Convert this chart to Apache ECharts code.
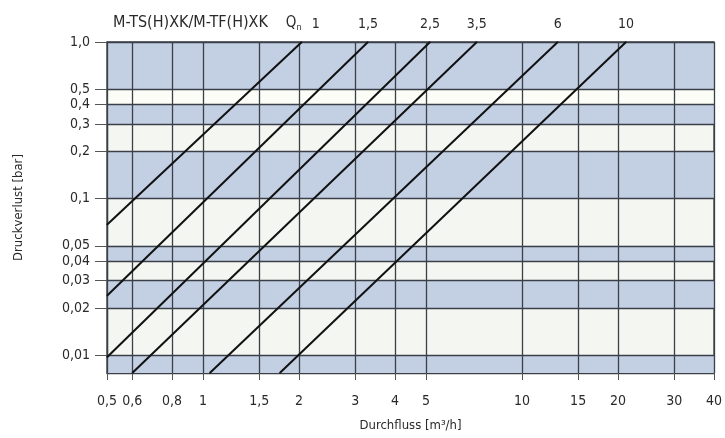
<!DOCTYPE html>
<html>
<head>
<meta charset="utf-8">
<script src="https://cdn.jsdelivr.net/npm/echarts@6/dist/echarts.min.js"></script>
<style>
  html, body { margin: 0; padding: 0; background: #fff; }
  #chart { width: 725px; height: 438px; }
</style>
</head>
<body>
<div id="chart"></div>
<script>
const X_MIN = 0.5
const X_MAX = 40
const Y_MIN = 0.0077
const Y_MAX = 1

const xTicks = [0.5, 0.6, 0.8, 1, 1.5, 2, 3, 4, 5, 10, 15, 20, 30, 40]
const yTicks = [1, 0.5, 0.4, 0.3, 0.2, 0.1, 0.05, 0.04, 0.03, 0.02, 0.01]

// blue bands [low, high]
const blueBands = [[0.5, 1], [0.3, 0.4], [0.1, 0.2], [0.04, 0.05], [0.02, 0.03], [Y_MIN, 0.01]]
const paleBand = [0.4, 0.5]

// nominal flow labels and each curve's two end points [Q, dp]
const qnNames = ['1', '1,5', '2,5', '3,5', '6', '10']
const curveStart = [[0.5, 0.068], [0.5, 0.024], [0.5, 0.0097], [0.6, Y_MIN], [1.05, Y_MIN], [1.74, Y_MIN]]
const curveEnd = [[2.04, 1], [3.29, 1], [5.15, 1], [7.22, 1], [12.95, 1], [21.2, 1]]

const FONT = '"Liberation Sans Narrow", "DejaVu Sans Condensed", "Liberation Sans", sans-serif'
const TEXT = '#2a2a2a'
const fmt = (v) => String(v).replace('.', ',')

const chart = echarts.init(document.getElementById('chart'))

const bandAreas = blueBands.map(([lo, hi]) => [{ yAxis: lo }, { yAxis: hi }])

const series = qnNames.map((name, i) => ({
  type: 'line',
  name,
  symbol: 'circle',
  symbolSize: 1,
  showSymbol: true,
  silent: true,
  clip: false,
  z: 5,
  itemStyle: { color: '#111' },
  lineStyle: { color: '#111', width: 2 },
  data: [
    curveStart[i],
    {
      value: curveEnd[i],
      label: {
        show: true,
        position: 'top',
        distance: 10,
        offset: i === 0 ? [14, 0] : [0, 0],
        formatter: name,
        fontFamily: FONT,
        fontSize: 14,
        color: TEXT,
      },
    },
  ],
}))

// bands and grid lines are carried by a helper series
series.push({
  type: 'line',
  data: [],
  silent: true,
  markArea: {
    silent: true,
    itemStyle: { color: '#c3d0e4' },
    data: bandAreas.concat([[{ yAxis: paleBand[0], itemStyle: { color: '#fcfdf7' } }, { yAxis: paleBand[1] }]]),
  },
  markLine: {
    silent: true,
    symbol: 'none',
    label: { show: false },
    lineStyle: { color: '#3b4048', width: 1.3, type: 'solid' },
    data: yTicks.map((v) => ({ yAxis: v })).concat(xTicks.map((v) => ({ xAxis: v }))),
  },
})

chart.setOption({
  animation: false,
  textStyle: { fontFamily: FONT },
  title: {
    left: 108,
    top: 9,
    text: '{a|M-TS(H)XK/M-TF(H)XK}{g| }{q|Q}{s|n}',
    textStyle: {
      fontWeight: 'normal',
      rich: {
        a: { fontFamily: FONT, fontSize: 16, fontWeight: 'normal', color: TEXT },
        g: { width: 18 },
        q: { fontFamily: FONT, fontSize: 15, fontWeight: 'normal', color: TEXT },
        s: { fontFamily: FONT, fontSize: 9, fontWeight: 'normal', color: TEXT, verticalAlign: 'bottom', padding: [6, 0, 0, 0] },
      },
    },
  },
  grid: {
    left: 107,
    right: 6,
    top: 42,
    bottom: 65,
    show: true,
    backgroundColor: '#f4f6f1',
    borderColor: '#3b4048',
    borderWidth: 1.3,
  },
  xAxis: {
    type: 'log',
    min: X_MIN,
    max: X_MAX,
    name: 'Durchfluss [m³/h]',
    nameLocation: 'middle',
    nameGap: 46,
    nameTextStyle: { fontFamily: FONT, fontSize: 13, color: TEXT },
    axisLine: { show: true, lineStyle: { color: '#3b4048', width: 1.3 } },
    axisTick: { show: true, length: 7, customValues: xTicks, lineStyle: { color: '#555' } },
    axisLabel: {
      customValues: xTicks,
      formatter: fmt,
      margin: 21,
      fontFamily: FONT,
      fontSize: 14,
      color: TEXT,
    },
    splitLine: { show: false },
  },
  yAxis: {
    type: 'log',
    min: Y_MIN,
    max: Y_MAX,
    name: 'Druckverlust [bar]',
    nameLocation: 'middle',
    nameGap: 82,
    nameTextStyle: { fontFamily: FONT, fontSize: 13, color: TEXT },
    axisLine: { show: true, lineStyle: { color: '#3b4048', width: 1.3 } },
    axisTick: { show: true, length: 12, customValues: yTicks, lineStyle: { color: '#555' } },
    axisLabel: {
      customValues: yTicks,
      formatter: (v) => (v === 1 ? '1,0' : fmt(v)),
      margin: 17,
      fontFamily: FONT,
      fontSize: 14,
      color: TEXT,
    },
    splitLine: { show: false },
  },
  series,
})
</script>
</body>
</html>
